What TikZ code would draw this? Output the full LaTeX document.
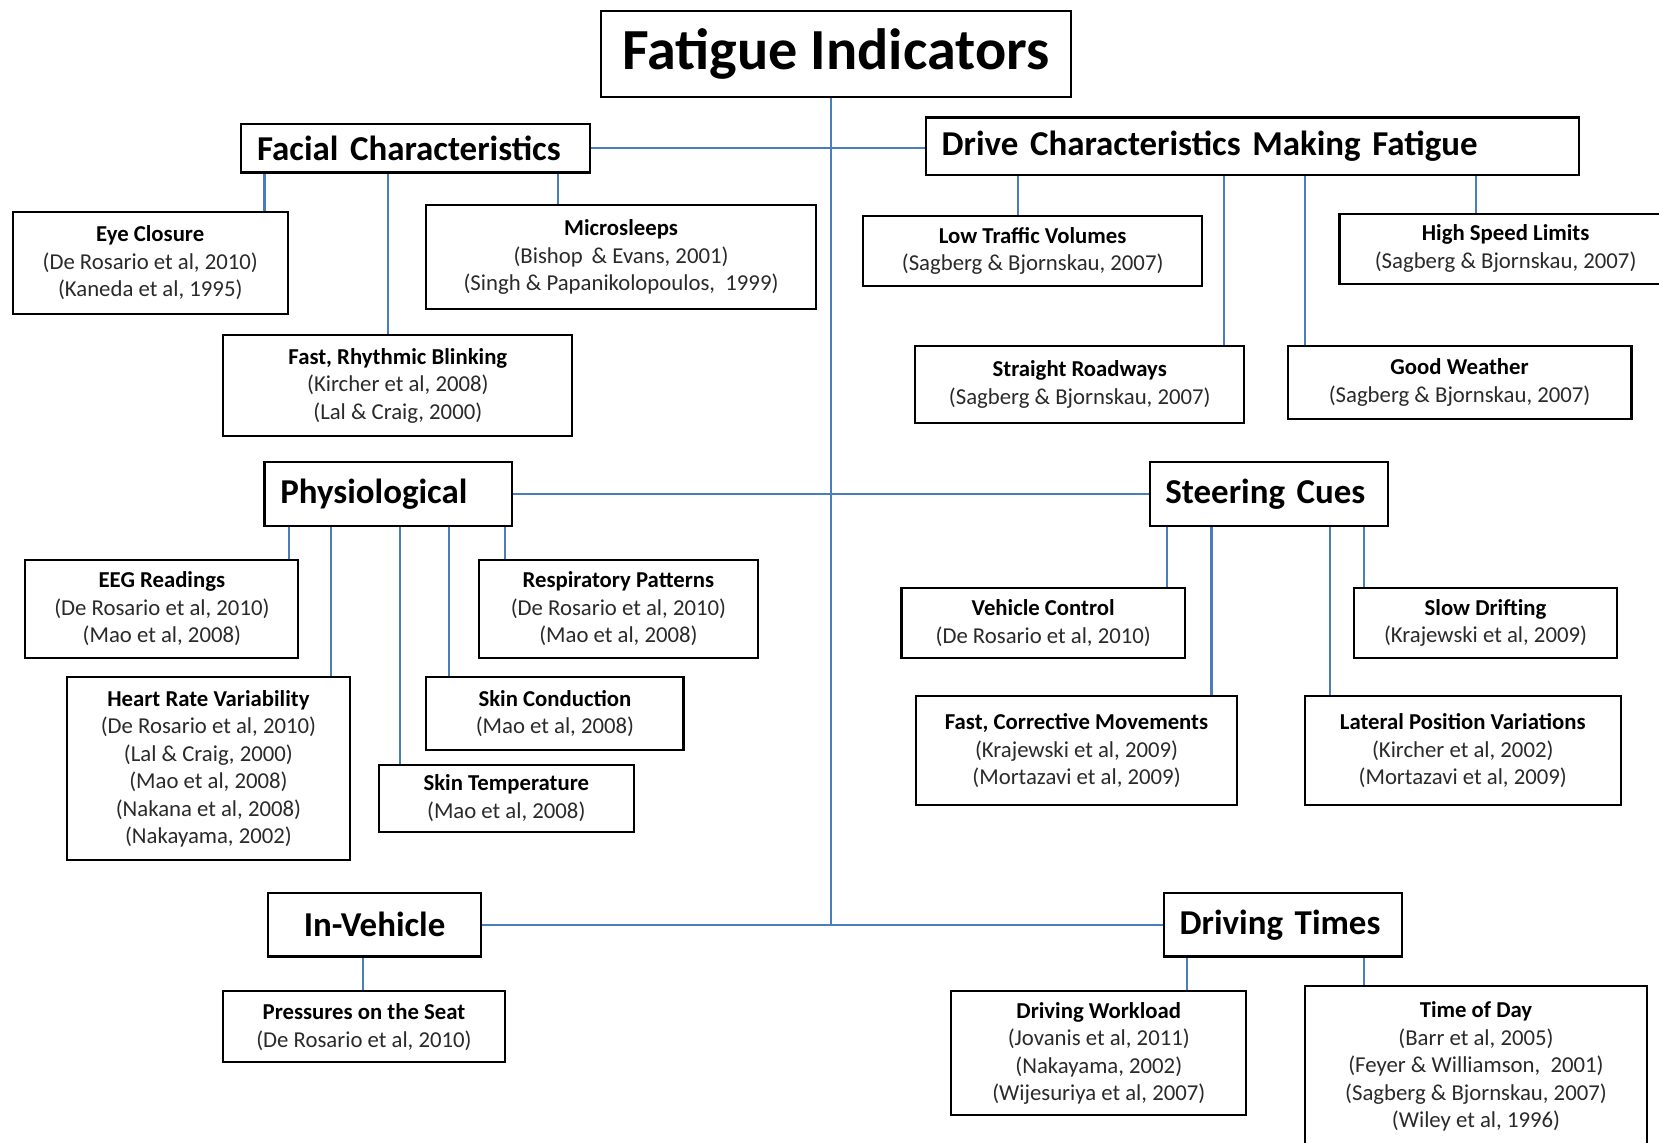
\documentclass[tikz,border=0pt]{standalone}
\usepackage{fontspec}
\setmainfont{Carlito}
\definecolor{conn}{HTML}{4A7EBB}
\definecolor{cit}{HTML}{2A2A2A}
\newcommand{\ct}[1]{{\color{cit}#1}}
\begin{document}
\begin{tikzpicture}[x=1pt,y=-1pt]
\tikzset{
  boxbase/.style={draw=black, line width=2pt, inner sep=0pt, fill=white},
  titlebox/.style={boxbase, font={\fontsize{55}{62}\selectfont\bfseries}, align=center},
  hdr/.style={boxbase, font={\fontsize{33}{38}\selectfont\bfseries}, align=left, inner xsep=15pt},
  hdrc/.style={boxbase, font={\fontsize{33}{38}\selectfont\bfseries}, align=center},
  item/.style={boxbase, font={\fontsize{21.5}{26}\selectfont}, align=center},
  link/.style={draw=conn, line width=2pt}
}
\useasboundingbox (0,0) rectangle (1568,1080);
\clip (0,0) rectangle (1568,1080);

% top level
\node[titlebox, minimum width=444, minimum height=82] (title) at (790,51) {Fatigue Indicators};
\coordinate (hub) at (785,874);

% headers
\node[hdr, text width=300, minimum height=46] (facial) at (393,140) {Facial Characteristics};
\node[hdr, text width=587, minimum height=54] (drive) at (1183.5,138) {Drive Characteristics Making Fatigue};
\node[hdr, text width=204, minimum height=60] (physio) at (367,467) {Physiological};
\node[hdr, text width=196, minimum height=60, inner xsep=14.5pt] (steer) at (1199.5,467) {Steering Cues};
\node[hdrc, minimum width=202, minimum height=60] (inveh) at (354,874) {In-Vehicle};
\node[hdr, text width=195, minimum height=60] (drivt) at (1212.5,874) {Driving Times};

% facial children
\node[item, minimum width=260, minimum height=97] (eye) at (142,248.5)
  {\textbf{Eye Closure}\\\ct{(De Rosario et al, 2010)}\\\ct{(Kaneda et al, 1995)}};
\node[item, minimum width=368, minimum height=98] (micro) at (587,243)
  {\textbf{Microsleeps}\\\ct{(Bishop \,\& Evans, 2001)}\\\ct{(Singh \& Papanikolopoulos, \ 1999)}};
\node[item, minimum width=330, minimum height=95] (blink) at (376,364.5)
  {\textbf{Fast, Rhythmic Blinking}\\\ct{(Kircher et al, 2008)}\\\ct{(Lal \& Craig, 2000)}};

% drive children
\node[item, minimum width=320, minimum height=66] (lowt) at (976,237)
  {\textbf{Low Traffic Volumes}\\\ct{(Sagberg \& Bjornskau, 2007)}};
\node[item, minimum width=314, minimum height=66] (highs) at (1423,235)
  {\textbf{High Speed Limits}\\\ct{(Sagberg \& Bjornskau, 2007)}};
\node[item, minimum width=311, minimum height=73] (straight) at (1020.5,363.5)
  {\textbf{Straight Roadways}\\\ct{(Sagberg \& Bjornskau, 2007)}};
\node[item, minimum width=325, minimum height=69] (good) at (1379.5,361.5)
  {\textbf{Good Weather}\\\ct{(Sagberg \& Bjornskau, 2007)}};

% physiological children
\node[item, minimum width=258, minimum height=93] (eeg) at (153,575.5)
  {\textbf{EEG Readings}\\\ct{(De Rosario et al, 2010)}\\\ct{(Mao et al, 2008)}};
\node[item, minimum width=263, minimum height=93] (resp) at (584.5,575.5)
  {\textbf{Respiratory Patterns}\\\ct{(De Rosario et al, 2010)}\\\ct{(Mao et al, 2008)}};
\node[item, minimum width=268, minimum height=173] (heart) at (197,726.5)
  {\textbf{Heart Rate Variability}\\\ct{(De Rosario et al, 2010)}\\\ct{(Lal \& Craig, 2000)}\\\ct{(Mao et al, 2008)}\\\ct{(Nakana et al, 2008)}\\\ct{(Nakayama, 2002)}};
\node[item, minimum width=243, minimum height=69] (skinc) at (524.5,674.5)
  {\textbf{Skin Conduction}\\\ct{(Mao et al, 2008)}};
\node[item, minimum width=241, minimum height=63] (skint) at (478.5,754.5)
  {\textbf{Skin Temperature}\\\ct{(Mao et al, 2008)}};

% steering children
\node[item, minimum width=268, minimum height=66] (vehc) at (986,589)
  {\textbf{Vehicle Control}\\\ct{(De Rosario et al, 2010)}};
\node[item, minimum width=248, minimum height=66] (slow) at (1404,589)
  {\textbf{Slow Drifting}\\\ct{(Krajewski et al, 2009)}};
\node[item, minimum width=303, minimum height=103] (fastcm) at (1017.5,709.5)
  {\textbf{Fast, Corrective Movements}\\\ct{(Krajewski et al, 2009)}\\\ct{(Mortazavi et al, 2009)}};
\node[item, minimum width=299, minimum height=103] (lateral) at (1382.5,709.5)
  {\textbf{Lateral Position Variations}\\\ct{(Kircher et al, 2002)}\\\ct{(Mortazavi et al, 2009)}};

% in-vehicle / driving times children
\node[item, minimum width=266, minimum height=67] (press) at (344,970.5)
  {\textbf{Pressures on the Seat}\\\ct{(De Rosario et al, 2010)}};
\node[item, minimum width=279, minimum height=117] (work) at (1038.5,995.5)
  {\textbf{Driving Workload}\\\ct{(Jovanis et al, 2011)}\\\ct{(Nakayama, 2002)}\\\ct{(Wijesuriya et al, 2007)}};
\node[item, minimum width=324, minimum height=152] (tod) at (1395,1008)
  {\textbf{Time of Day}\\\ct{(Barr et al, 2005)}\\\ct{(Feyer \& Williamson, \ 2001)}\\\ct{(Sagberg \& Bjornskau, 2007)}\\\ct{(Wiley et al, 1996)}};

% connectors
\draw[link] (title.south -| hub) -- (hub);
\draw[link] (facial.east) -- (drive.west |- facial.east);
\draw[link] (physio.east) -- (steer.west);
\draw[link] (inveh.east) -- (drivt.west);

\draw[link] (facial.south -| 250,0) -- (eye.north -| 250,0);
\draw[link] (facial.south -| 367,0) -- (blink.north -| 367,0);
\draw[link] (facial.south -| 527,0) -- (micro.north -| 527,0);

\draw[link] (drive.south -| 962,0) -- (lowt.north -| 962,0);
\draw[link] (drive.south -| 1157,0) -- (straight.north -| 1157,0);
\draw[link] (drive.south -| 1233,0) -- (good.north -| 1233,0);
\draw[link] (drive.south -| 1395,0) -- (highs.north -| 1395,0);

\draw[link] (physio.south -| 273,0) -- (eeg.north -| 273,0);
\draw[link] (physio.south -| 313,0) -- (heart.north -| 313,0);
\draw[link] (physio.south -| 378,0) -- (skint.north -| 378,0);
\draw[link] (physio.south -| 424,0) -- (skinc.north -| 424,0);
\draw[link] (physio.south -| 477,0) -- (resp.north -| 477,0);

\draw[link] (steer.south -| 1103,0) -- (vehc.north -| 1103,0);
\draw[link] (steer.south -| 1145,0) -- (fastcm.north -| 1145,0);
\draw[link] (steer.south -| 1257,0) -- (lateral.north -| 1257,0);
\draw[link] (steer.south -| 1289,0) -- (slow.north -| 1289,0);

\draw[link] (inveh.south -| 343,0) -- (press.north -| 343,0);
\draw[link] (drivt.south -| 1122,0) -- (work.north -| 1122,0);
\draw[link] (drivt.south -| 1289,0) -- (tod.north -| 1289,0);
\end{tikzpicture}
\end{document}
